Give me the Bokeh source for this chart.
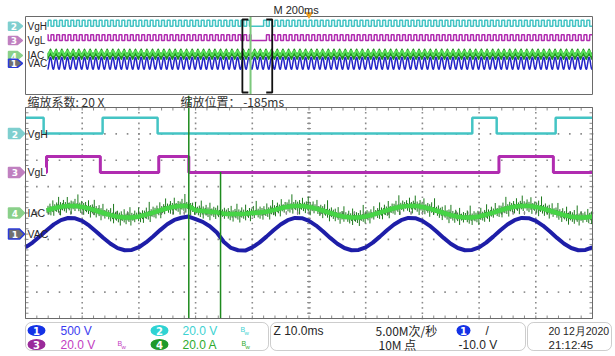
import numpy as np
from bokeh.plotting import figure
from bokeh.models import Range1d, BoxAnnotation
from bokeh.core.properties import value
from bokeh.embed import file_html
from bokeh.resources import INLINE

SAMPLE_MS = 1.25                      # spacing of the zoom-window samples
VAC_V = [-251, -160, -45, 74, 184, 265, 305, 300, 250, 160, 46, -74, -184, -266, -306, -300,
         -249, -158, -44, 76, 186, 268, 310, 332,
         282, 232, 150, 30, -150, -262, -306, -312,
         -252, -162, -48, 72, 182, 264, 306, 301, 251, 162, 48, -72, -182, -264, -306, -301,
         -251, -162, -48, 72, 182, 264, 306, 301, 251, 162, 48, -72, -182, -264, -306, -301,
         -251, -162, -48, 72, 182, 264, 306, 301, 251, 162, 48, -72, -182, -264, -306, -301,
         -251]
IAC_A = [-2.6, -1.3, 0.3, 2.0, 3.6, 4.8, 5.4, 5.4, 4.6, 3.3, 1.7, 0.0, -1.6, -2.8, -3.4, -3.4,
         -2.6, -1.3, 0.3, 2.0, 3.6, 4.8, 5.4, 5.4,
         2.0, 1.5, 1.0, 0.5, -0.5, -0.8, -0.8, -0.5, 0.0, 0.3, 1.0, 2.2,
         3.6, 4.8, 5.4, 5.4, 4.6, 3.3, 1.7, 0.0, -1.6, -2.8, -3.4, -3.4,
         -2.6, -1.3, 0.3, 2.0, 3.6, 4.8, 5.4, 5.4, 4.6, 3.3, 1.7, 0.0, -1.6, -2.8, -3.4, -3.4,
         -2.6, -1.3, 0.3, 2.0, 3.6, 4.8, 5.4, 5.4, 4.6, 3.3, 1.7, 0.0, -1.6, -2.8, -3.4, -3.4,
         -2.6]
VGH_EDGES_MS = [0.0, 3.2, 13.6, 23.3, 78.8, 83.1, 93.5, 100.0]
VGH_LEVELS_V = [12, 0, 12, 0, 12, 0, 12, 12]
VGL_EDGES_MS = [0.0, 3.7, 13.2, 23.5, 28.8, 83.5, 93.1, 100.0]
VGL_LEVELS_V = [0, 12, 0, 12, 0, 12, 0, 0]
SPIKE_T_MS = [28.8, 34.4]
SPIKE_TOP_A = [89, 31]
SPIKE_BOT_A = [-90, -90]
NOISE_UP_A = [1.6, 3.2, 1.0, 4.4, 2.1, 1.2, 6.2, 1.7, 2.9, 0.9, 3.9, 2.3, 7.8, 1.4, 3.5, 1.2, 2.5, 4.9,
              1.3, 3.1, 1.0, 6.8, 2.0, 2.6, 1.6, 4.0, 1.2, 3.4, 1.8, 5.3, 1.3, 2.2, 9.0, 1.7, 3.0, 1.0, 4.5]
NOISE_DN_A = [1.9, 1.2, 3.6, 1.6, 4.7, 1.3, 2.7, 5.7, 1.0, 2.5, 3.2, 1.4, 4.2, 1.2, 6.5, 2.1, 2.9, 1.3,
              3.8, 1.7, 5.1, 1.0, 2.3, 3.4, 1.6, 6.1, 1.3, 2.6, 1.8, 3.9, 1.2]

# channel settings: name, units/div, position (div)
CH = {
    "VAC": dict(num="1", scale=500.0, pos=-0.80, color="#1e1ea8"),
    "VgH": dict(num="2", scale=20.0, pos=3.01, color="#44c4c4"),
    "VgL": dict(num="3", scale=20.0, pos=1.54, color="#b02cb0"),
    "IAC": dict(num="4", scale=20.0, pos=0.0, color="#46d446"),
}
# overview (main record), one mains cycle = 16 samples of 1.25 ms
OV_SPAN_MS = 2000.0
TRIG_MS = 1000.0
ZOOM_POS_MS = -185.0
ZOOM_FACTOR = 20
OV_VAC_CYCLE = [-251, -162, -48, 72, 182, 264, 306, 301, 251, 162, 48, -72, -182, -264, -306, -301]
OV_IAC_CYCLE = [-2.6, -1.3, 0.3, 2.0, 3.6, 4.8, 5.4, 5.4, 4.6, 3.3, 1.7, 0.0, -1.6, -2.8, -3.4, -3.4]
OV_VGH_CYCLE = [12, 12, 12, 12, 12, 12, 12, 12, 0, 0, 0, 0, 0, 0, 0, 0]
OV_VGL_CYCLE = [0, 0, 0, 0, 0, 0, 0, 0, 12, 12, 12, 12, 12, 12, 12, 12]
OV_VGH_HOLD_MS = (794, 840)
OV_VGL_HOLD_MS = (794, 847)

# ---------------- page geometry ----------------
W, H = 615, 356
PX0, PX1 = 25, 592
MT, MB = 107, 318
OT, OB = 16, 94
PPX = (PX1 - PX0) / 100.0          # px per ms (zoom window)
PPY = (MB - MT) / 8.0              # px per division
YC = (MT + MB) / 2.0
OVC = (YC - (OT + OB) / 2.0) / PPY  # overview centre in main-div units
OVS = ((OB - OT) / 8.0) / PPY      # overview div -> main div


def X(px):
    return (px - PX0) / PPX


def Y(py):
    return (YC - py) / PPY


p = figure(width=W, height=H, x_range=Range1d(X(0), X(W)), y_range=Range1d(Y(H), Y(0)),
           output_backend="svg", toolbar_location=None, x_axis_type=None, y_axis_type=None,
           min_border=0, min_border_left=0, min_border_right=0, min_border_top=0, min_border_bottom=0)
p.outline_line_color = None
p.background_fill_color = "white"
p.border_fill_color = "white"

GRID = "#8a8a8a"
DX = 1.0 / PPX
DY = 1.0 / PPY

# ---------------- main grid (dots every 1/5 division) ----------------
tk = np.arange(0, 100.01, 2.0)
dv = np.arange(-4, 4.01, 0.2)
gx, gy = [], []
for t in range(10, 100, 10):
    gx += [t] * len(dv)
    gy += list(dv)
for d in range(-3, 4):
    gx += list(tk)
    gy += [d] * len(tk)
p.scatter(x=gx, y=gy, marker="square", size=1.6, fill_color=GRID, line_color=None)
# centre cross ticks
p.segment(x0=tk, y0=-2 * DY, x1=tk, y1=2 * DY, line_color=GRID)
p.segment(x0=50 - 2 * DX, y0=dv, x1=50 + 2 * DX, y1=dv, line_color=GRID)
# border ticks
p.segment(x0=tk, y0=4, x1=tk, y1=4 - 3 * DY, line_color=GRID)
p.segment(x0=tk, y0=-4, x1=tk, y1=-4 + 3 * DY, line_color=GRID)
p.segment(x0=0, y0=dv, x1=3 * DX, y1=dv, line_color=GRID)
p.segment(x0=100, y0=dv, x1=100 - 3 * DX, y1=dv, line_color=GRID)


def my(ch, v):
    c = CH[ch]
    return c["pos"] + np.asarray(v, dtype=float) / c["scale"]


def oy(ch, v):
    return OVC + my(ch, v) * OVS


# ---------------- main traces ----------------
t_main = np.arange(len(VAC_V)) * SAMPLE_MS
p.step(VGH_EDGES_MS, my("VgH", VGH_LEVELS_V), mode="after", line_color=CH["VgH"]["color"], line_width=2.5)
p.step(VGL_EDGES_MS, my("VgL", VGL_LEVELS_V), mode="after", line_color=CH["VgL"]["color"], line_width=3)

t_n = np.arange(3.8, 100, 0.17)
ctr = np.interp(t_n, t_main, IAC_A)
up = np.array([NOISE_UP_A[i % len(NOISE_UP_A)] for i in range(len(t_n))])
dn = np.array([NOISE_DN_A[i % len(NOISE_DN_A)] for i in range(len(t_n))])
p.segment(x0=t_n, y0=my("IAC", ctr - dn), x1=t_n, y1=my("IAC", ctr + up), line_color="#1c781c", line_width=1)
p.line(t_main[3:], my("IAC", IAC_A[3:]), line_color=CH["IAC"]["color"], line_width=4.5, line_join="round")
p.line(t_main, my("VAC", VAC_V), line_color=CH["VAC"]["color"], line_width=4, line_join="round")

top_lim, bot_lim = Y(95), -4.0
sy0 = np.clip(my("IAC", SPIKE_BOT_A), bot_lim, top_lim)
sy1 = np.clip(my("IAC", SPIKE_TOP_A), bot_lim, top_lim)
p.segment(x0=SPIKE_T_MS, y0=sy0, x1=SPIKE_T_MS, y1=sy1, line_color="#1d8a1d", line_width=1.5)

# main border
p.quad(left=0, right=100, top=4, bottom=-4, fill_color=None, line_color="#6a6a6a", line_width=1)

# ---------------- overview ----------------
n = np.arange(62, 1600)
t_ov = n * SAMPLE_MS
L = len(OV_VAC_CYCLE)
vgh = np.array([OV_VGH_CYCLE[i % L] for i in n], dtype=float)
vgl = np.array([OV_VGL_CYCLE[i % L] for i in n], dtype=float)
iac = np.array([OV_IAC_CYCLE[i % L] for i in n], dtype=float)
vac = np.array([OV_VAC_CYCLE[i % L] for i in n], dtype=float)
vgh[(t_ov >= OV_VGH_HOLD_MS[0]) & (t_ov < OV_VGH_HOLD_MS[1])] = 0
vgl[(t_ov >= OV_VGL_HOLD_MS[0]) & (t_ov < OV_VGL_HOLD_MS[1])] = 0
xo = t_ov / (OV_SPAN_MS / 100.0)
p.step(xo, oy("VgH", vgh), mode="after", line_color=CH["VgH"]["color"], line_width=1.5)
p.step(xo, oy("VgL", vgl), mode="after", line_color=CH["VgL"]["color"], line_width=1.5)
p.varea(x=xo, y1=oy("IAC", iac - 6), y2=oy("IAC", iac + 9), fill_color="#1f8f1f")
p.line(xo, oy("IAC", iac + 4), line_color="#5ae05a", line_width=2)
p.line(xo, oy("VAC", vac), line_color="#2424c8", line_width=1.5)

zw0 = (TRIG_MS + ZOOM_POS_MS - 50) / (OV_SPAN_MS / 100.0)
zw1 = (TRIG_MS + ZOOM_POS_MS + 50) / (OV_SPAN_MS / 100.0)
ev = (TRIG_MS + ZOOM_POS_MS - 50 + SPIKE_T_MS[0]) / (OV_SPAN_MS / 100.0)
p.segment(x0=[ev], y0=[Y(OB)], x1=[ev], y1=[Y(OT)], line_color="#7cc87c", line_width=2)
sx = 6 * DX
p.multi_line([[zw0 + sx, zw0, zw0, zw0 + sx], [zw1 + 1.5 * DX - sx, zw1 + 1.5 * DX, zw1 + 1.5 * DX, zw1 + 1.5 * DX - sx]],
             [[Y(19), Y(19), Y(92), Y(92)]] * 2, line_color="#111111", line_width=1.8)
p.quad(left=0, right=100, top=Y(OT), bottom=Y(OB), fill_color=None, line_color="#6a6a6a", line_width=1)
p.scatter([TRIG_MS / (OV_SPAN_MS / 100.0)], [Y(14)], marker="inverted_triangle", size=8,
          fill_color="#f0a020", line_color=None)


# ---------------- labels & markers ----------------
def txt(px, py, s, color="#262626", size="11px", font="Liberation Sans", align="left", style="normal"):
    p.text(x=[X(px)], y=[Y(py)], text=[s], text_color=color, text_font=value(font), text_font_size=size,
           text_align=align, text_baseline="middle", text_font_style=style)


MK = {"VAC": ("#707070", "#2b3bd8"), "VgH": ("#7fcfcf", None), "VgL": ("#c080c0", None), "IAC": ("#8ad08a", None)}


def marker(py, name, h, xr):
    fill, line = MK[name]
    xs = [X(8), X(xr - 5), X(xr), X(xr - 5), X(8)]
    ys = [Y(py - h), Y(py - h), Y(py), Y(py + h), Y(py + h)]
    p.patch(xs, ys, fill_color=fill, line_color=line if line else fill, line_width=1.5)
    txt(8 + (xr - 13) / 2.0 + 1, py + 0.5, CH[name]["num"], color="white", size="9px", font="DejaVu Sans",
        align="center", style="bold")


for name in ["VgH", "VgL", "IAC", "VAC"]:
    py_main = YC - CH[name]["pos"] * PPY
    if name == "VgL":
        p.quad(left=X(25.5), right=X(45.5), top=Y(py_main - 5), bottom=Y(py_main + 5), fill_color="white",
               line_color=None)
    marker(py_main, name, 5, 24)
    txt(27, py_main, name, size="10.5px")
    py_ov = YC - oy(name, 0.0) * PPY
    marker(py_ov, name, 4, 22)
    txt(27, py_ov, name, size="10px")

txt(273, 9, "M 200ms", size="11px")
txt(27, 101, "缩放系数: 20 X", size="12px", font="Noto Sans CJK SC", color="#333333")
txt(180, 101, "缩放位置： -185ms", size="12px", font="Noto Sans CJK SC", color="#333333")

# ---------------- info panel ----------------
for l, r in [(25, 268), (270, 525), (527, 611)]:
    p.add_layout(BoxAnnotation(left=X(l), right=X(r), top=Y(322), bottom=Y(350), border_radius=6,
                               fill_alpha=0, line_color="#5a5a5a", line_width=1))
R1, R2 = 330, 344
for px, py, num, col, w in [(36, R1, "1", "#1432e6", 18), (36, R2, "3", "#9a2a9a", 18),
                            (159, R1, "2", "#2fd3d3", 18), (159, R2, "4", "#1f9a2a", 18),
                            (463, R1, "1", "#1432e6", 14)]:
    p.ellipse(x=[X(px)], y=[Y(py)], width=w, height=11, width_units="screen", height_units="screen",
              fill_color=col, line_color=None)
    txt(px, py + 0.5, num, color="white", size="10px", font="DejaVu Sans", align="center", style="bold")

txt(60, R1, "500 V", color="#3c3cf0", size="12px")
txt(60, R2, "20.0 V", color="#c23cc2", size="12px")
txt(182, R1, "20.0 V", color="#3cd2d2", size="12px")
txt(182, R2, "20.0 A", color="#2daa2d", size="12px")
for px, py, col in [(117, R2, "#c23cc2"), (240, R1, "#3cd2d2"), (241, R2, "#2daa2d")]:
    txt(px, py - 1, "B", color=col, size="7px")
    txt(px + 4, py + 2, "w", color=col, size="6px")
txt(273, R1, "Z 10.0ms", size="12px")
txt(375, R1, "5.00M次/秒", font="Noto Sans CJK SC", size="12px")
txt(378, R2, "10M 点", font="Noto Sans CJK SC", size="12px")
txt(485, R1, "/", size="12px")
txt(458, R2, "-10.0 V", size="12px")
txt(548, R1, "20 12月2020", size="10.5px")
txt(548, R2, "21:12:45", size="11.5px")

open("out.html", "w").write(file_html(p, INLINE))
